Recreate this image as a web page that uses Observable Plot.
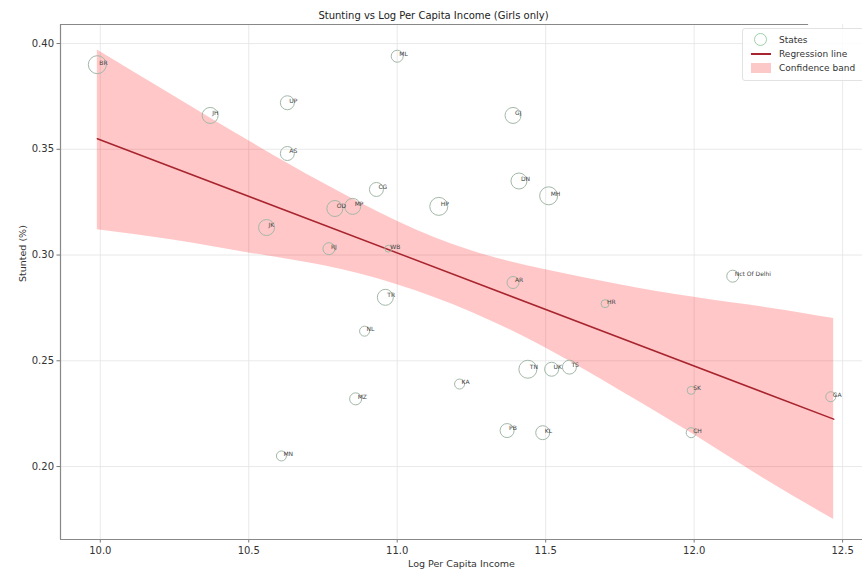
<!DOCTYPE html>
<html><head><meta charset="utf-8">
<script src="https://cdn.jsdelivr.net/npm/d3@7"></script>
<script src="https://cdn.jsdelivr.net/npm/@observablehq/plot@0.6"></script>
<style>
body{margin:0;background:#fff;font-family:"DejaVu Sans",sans-serif;}
#wrap{position:relative;width:862px;height:574px;overflow:hidden;}
#legend{position:absolute;left:742px;top:28px;width:130px;height:51px;background:rgba(255,255,255,0.85);border:1px solid #e2e2e2;border-radius:3px;font-size:9px;color:#333;}
#legend .row{position:absolute;left:8px;height:12px;display:flex;align-items:center;}
#legend .sym{width:20px;height:12px;position:relative;margin-right:8px;}
</style></head><body>
<div id="wrap"><div id="chart"></div>
<div id="legend">
  <div class="row" style="top:5px"><div class="sym"><div style="position:absolute;left:3px;top:-1px;width:13px;height:13px;border:1px solid #9fd0a8;border-radius:50%;box-sizing:border-box"></div></div>States</div>
  <div class="row" style="top:19px"><div class="sym"><div style="position:absolute;left:0;top:5px;width:20px;height:2px;background:#a8242f"></div></div>Regression line</div>
  <div class="row" style="top:33px"><div class="sym"><div style="position:absolute;left:0;top:1px;width:20px;height:10px;background:#fcc8c8"></div></div>Confidence band</div>
</div></div>
<script>
// States: label, log per capita income, stunted share, size weight (marker area)
const labels  = ["BR","JH","UP","AS","ML","GJ","CG","DN","MH","OD","MP","HP","JK","RJ","WB","AR","Nct Of Delhi","TR","HR","NL","KA","MZ","TN","UK","TS","SK","GA","PB","KL","CH","MN"];
const income  = [9.99,10.37,10.63,10.63,11.00,11.39,10.93,11.41,11.51,10.79,10.85,11.14,10.56,10.77,10.97,11.39,12.13,10.96,11.70,10.89,11.21,10.86,11.44,11.52,11.58,11.99,12.46,11.37,11.49,11.99,10.61];
const stunted = [0.390,0.366,0.372,0.348,0.394,0.366,0.331,0.335,0.328,0.322,0.323,0.323,0.313,0.303,0.303,0.287,0.290,0.280,0.277,0.264,0.239,0.232,0.246,0.246,0.247,0.236,0.233,0.217,0.216,0.216,0.205];
const weight  = [81,64,49,49,36,64,49,64,81,64,64,81,64,36,12,36,36,64,16,25,25,36,81,49,49,16,25,49,49,25,25];

// Regression line
const fitX = [9.99, 12.47];
const fitY = [0.3550, 0.2224];

// Confidence band
const bandX  = [9.99, 10.25, 10.5, 10.75, 11.0, 11.25, 11.5, 11.75, 12.0, 12.25, 12.47];
const bandHi = [0.397, 0.375, 0.354, 0.334, 0.316, 0.302, 0.293, 0.286, 0.280, 0.275, 0.270];
const bandLo = [0.312, 0.307, 0.301, 0.295, 0.286, 0.273, 0.256, 0.236, 0.215, 0.193, 0.175];

const xTicks = [10.0, 10.5, 11.0, 11.5, 12.0, 12.5];
const yTicks = [0.20, 0.25, 0.30, 0.35, 0.40];

const points = labels.map((l, i) => ({label: l, x: income[i], y: stunted[i], w: weight[i]}));
const fit = fitX.map((x, i) => ({x, y: fitY[i]}));
const band = bandX.map((x, i) => ({x, hi: bandHi[i], lo: bandLo[i]}));

const xMin = 9.866, xMax = 12.567, yMin = 0.1655, yMax = 0.409;

const chart = Plot.plot({
  width: 862, height: 574,
  marginLeft: 60, marginRight: 0, marginTop: 24, marginBottom: 35,
  style: {fontFamily: "DejaVu Sans, sans-serif", fontSize: "10px", color: "#333", background: "transparent"},
  x: {domain: [xMin, xMax], label: null},
  y: {domain: [yMin, yMax], label: null},
  r: {type: "sqrt", domain: [0, 81], range: [0, 9]},
  marks: [
    Plot.gridX(xTicks, {stroke: "#e3e3e3", strokeOpacity: 1, strokeWidth: 0.8}),
    Plot.gridY(yTicks, {stroke: "#e3e3e3", strokeOpacity: 1, strokeWidth: 0.8}),
    Plot.areaY(band, {x: "x", y1: "lo", y2: "hi", fill: "#ff0000", fillOpacity: 0.22, curve: "natural"}),
    Plot.line(fit, {x: "x", y: "y", stroke: "#a8242f", strokeWidth: 1.5}),
    Plot.dot(points, {x: "x", y: "y", r: "w", stroke: "#a3b8a8", strokeWidth: 1, fill: "none"}),
    Plot.text(points, {x: "x", y: "y", text: "label", dx: 2, dy: -2, textAnchor: "start", fontSize: 6, fill: "#444"}),
    Plot.axisX(xTicks, {tickFormat: d3.format(".1f"), tickSize: 3.5, tickPadding: 4, stroke: "#777", fill: "#333", fontSize: 10, label: null}),
    Plot.axisY(yTicks, {tickFormat: d3.format(".2f"), tickSize: 3.5, tickPadding: 3, stroke: "#777", fill: "#333", fontSize: 10, label: null}),
    Plot.ruleX([xMin], {stroke: "#888", strokeWidth: 1.2}),
    Plot.ruleY([yMin], {stroke: "#888", strokeWidth: 1.2}),
    Plot.ruleY([yMax], {x1: xMin, x2: 12.3855, stroke: "#888", strokeWidth: 1.2}),
    Plot.text(["Stunting vs Log Per Capita Income (Girls only)"], {frameAnchor: "top-left", dx: 373, dy: -13, textAnchor: "middle", fontSize: 10, fill: "#222"}),
    Plot.text(["Log Per Capita Income"], {frameAnchor: "bottom", dy: 27, fontSize: 9.5, fill: "#333"}),
    Plot.text(["Stunted (%)"], {frameAnchor: "left", dx: -38, rotate: -90, fontSize: 9.5, fill: "#333"})
  ]
});
document.getElementById("chart").appendChild(chart);
</script>
</body></html>
